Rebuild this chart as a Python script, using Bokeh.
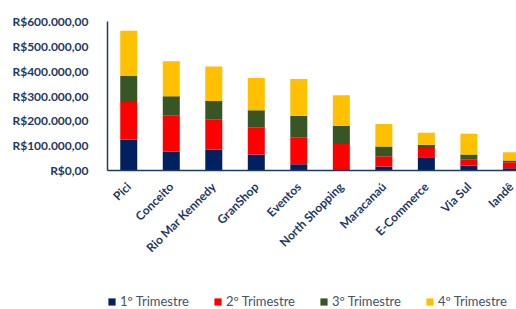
from bokeh.plotting import figure
from bokeh.layouts import column
from bokeh.models import ColumnDataSource, Range1d, FixedTicker, Legend, LegendItem
from bokeh.embed import file_html
from bokeh.resources import INLINE
import math

categories = ["Pici", "Conceito", "Rio Mar Kennedy", "GranShop", "Eventos",
              "North Shopping", "Maracanaú", "E-Commerce", "Via Sul", "Iandê"]
q1 = [125000, 76000, 84000, 64000, 25000, 2000, 16000, 53000, 20000, 9000]
q2 = [151000, 144000, 120000, 108000, 107000, 105000, 41000, 38000, 23000, 24000]
q3 = [105000, 79000, 76000, 71000, 88000, 73000, 40000, 13000, 21000, 7000]
q4 = [182000, 141000, 139000, 129000, 148000, 123000, 90000, 48000, 84000, 33000]
series_names = ["1º Trimestre", "2º Trimestre", "3º Trimestre", "4º Trimestre"]
y_ticks = [0, 100000, 200000, 300000, 400000, 500000, 600000]
y_tick_labels = ["R$0,00", "R$100.000,00", "R$200.000,00", "R$300.000,00",
                 "R$400.000,00", "R$500.000,00", "R$600.000,00"]

colors = ["#002060", "#FF0000", "#375623", "#FFC000"]
navy = "#1F3864"

xs = list(range(len(categories)))
source = ColumnDataSource(dict(x=xs, q1=q1, q2=q2, q3=q3, q4=q4))

p = figure(width=516, height=291, output_backend="svg", toolbar_location=None,
           x_range=Range1d(-0.5, 9.12), y_range=Range1d(0, 600000),
           min_border_left=107, min_border_top=21, min_border_right=0,
           min_border_bottom=121)
p.outline_line_color = None
p.grid.grid_line_color = None

renderers = p.vbar_stack(["q1", "q2", "q3", "q4"], x="x", width=0.4,
                         color=colors, line_color=None, source=source)

p.xaxis.ticker = FixedTicker(ticks=xs)
p.xaxis.major_label_overrides = {i: c for i, c in enumerate(categories)}
p.xaxis.major_label_orientation = math.pi / 4
p.yaxis.ticker = FixedTicker(ticks=y_ticks)
p.yaxis.major_label_overrides = {t: l for t, l in zip(y_ticks, y_tick_labels)}

for ax in (p.xaxis[0], p.yaxis[0]):
    ax.major_tick_line_color = None
    ax.minor_tick_line_color = None
    ax.axis_line_color = navy
    ax.axis_line_width = 1.5
    ax.major_label_text_font = "Lato"
    ax.major_label_text_font_style = "bold"
    ax.major_label_text_font_size = "12px"
    ax.major_label_text_color = navy
p.yaxis.major_label_standoff = 13
p.xaxis.major_label_standoff = 8

# legend strip below the chart (swatch renderers sit outside the visible range)
p2 = figure(width=516, height=18, output_backend="svg", toolbar_location=None,
            x_range=Range1d(0, 1), y_range=Range1d(0, 1),
            x_axis_location=None, y_axis_location=None,
            min_border_left=0, min_border_right=0, min_border_top=0, min_border_bottom=0)
p2.outline_line_color = None
p2.grid.grid_line_color = None
legend_renderers = [p2.vbar(x=[-10], top=[0], bottom=[0], width=0.4, color=c, line_color=None)
                    for c in colors]

legend = Legend(items=[LegendItem(label=n, renderers=[r]) for n, r in zip(series_names, legend_renderers)],
                orientation="horizontal", location=(0, 0))
legend.label_text_font = "Lato"
legend.label_text_font_size = "13px"
legend.label_text_color = "#44546A"
legend.label_height = 14
legend.glyph_width = 9
legend.glyph_height = 9
legend.label_standoff = 4
legend.spacing = 24
legend.border_line_color = None
legend.background_fill_alpha = 0
legend.padding = 0
legend.margin = 0
p2.add_layout(legend, "center")

layout = column(p, p2, spacing=0)
open("out.html", "w").write(file_html(layout, INLINE))
